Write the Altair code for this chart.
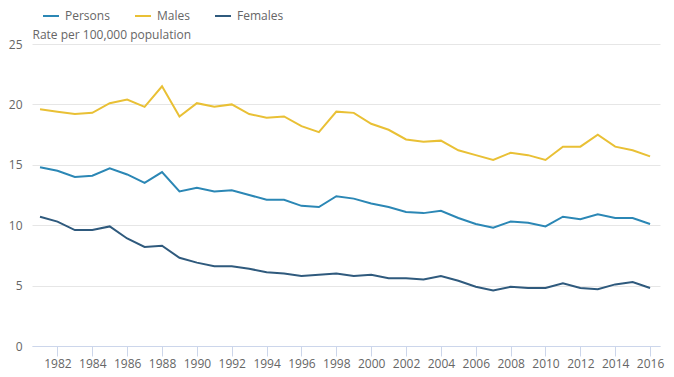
import altair as alt
import pandas as pd

years = list(range(1981, 2017))
persons = [14.8, 14.5, 14.0, 14.1, 14.7, 14.2, 13.5, 14.4, 12.8, 13.1, 12.8, 12.9,
           12.5, 12.1, 12.1, 11.6, 11.5, 12.4, 12.2, 11.8, 11.5, 11.1, 11.0, 11.2,
           10.6, 10.1, 9.8, 10.3, 10.2, 9.9, 10.7, 10.5, 10.9, 10.6, 10.6, 10.1]
males = [19.6, 19.4, 19.2, 19.3, 20.1, 20.4, 19.8, 21.5, 19.0, 20.1, 19.8, 20.0,
         19.2, 18.9, 19.0, 18.2, 17.7, 19.4, 19.3, 18.4, 17.9, 17.1, 16.9, 17.0,
         16.2, 15.8, 15.4, 16.0, 15.8, 15.4, 16.5, 16.5, 17.5, 16.5, 16.2, 15.7]
females = [10.7, 10.3, 9.6, 9.6, 9.9, 8.9, 8.2, 8.3, 7.3, 6.9, 6.6, 6.6,
           6.4, 6.1, 6.0, 5.8, 5.9, 6.0, 5.8, 5.9, 5.6, 5.6, 5.5, 5.8,
           5.4, 4.9, 4.6, 4.9, 4.8, 4.8, 5.2, 4.8, 4.7, 5.1, 5.3, 4.8]
series = ["Persons", "Males", "Females"]
colors = ["#2b87b5", "#e9c035", "#2f5a7d"]
x_ticks = list(range(1982, 2017, 2))
y_ticks = [0, 5, 10, 15, 20, 25]

rows = []
for name, vals in zip(series, [persons, males, females]):
    for y, v in zip(years, vals):
        rows.append({"Year": y, "Rate": v, "Series": name})
df = pd.DataFrame(rows)

FONT = "Open Sans"

chart = alt.Chart(df).mark_line(strokeWidth=2).encode(
    x=alt.X("Year:Q",
            scale=alt.Scale(domain=[1980.54, 2016.57], nice=False, zero=False),
            axis=alt.Axis(values=x_ticks, format="d", title=None, grid=False,
                          domainColor="#ccd6eb", tickColor="#ccd6eb", tickSize=10,
                          labelColor="#666666", labelFontSize=12, labelFont=FONT,
                          labelPadding=2, labelFlush=False)),
    y=alt.Y("Rate:Q",
            scale=alt.Scale(domain=[0, 25], nice=False),
            axis=alt.Axis(values=y_ticks, title="Rate per 100,000 population",
                          titleAngle=0, titleAlign="left", titleBaseline="bottom",
                          titleX=0, titleY=-3, titleColor="#666666",
                          titleFontSize=12, titleFontWeight="normal", titleFont=FONT,
                          domain=False, ticks=False, gridColor="#e6e6e6",
                          labelColor="#666666", labelFontSize=12, labelFont=FONT,
                          labelPadding=10)),
    color=alt.Color("Series:N",
                    scale=alt.Scale(domain=series, range=colors),
                    legend=alt.Legend(orient="none", legendX=10, legendY=-37,
                                      direction="horizontal", title=None,
                                      symbolType="stroke", symbolStrokeWidth=2,
                                      symbolSize=256, labelFontSize=12,
                                      labelColor="#666666", labelFont=FONT,
                                      columnPadding=21, labelOffset=5, padding=0)),
    order=alt.Order("Year:Q"),
).properties(
    width=628, height=302,
    autosize=alt.AutoSizeParams(type="none"),
    padding={"left": 24, "top": 36, "right": 6, "bottom": 31},
).configure_view(stroke=None)

chart.save("out.html", embed_options={"renderer": "svg", "actions": False})
